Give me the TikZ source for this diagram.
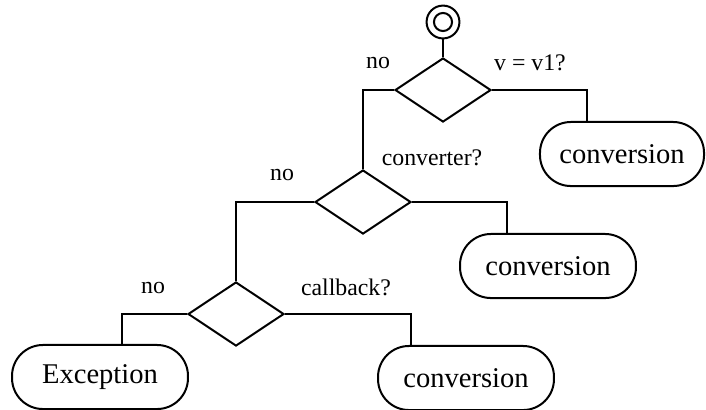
\documentclass[tikz,border=0pt]{standalone}
\usepackage{fontspec}
\setmainfont{Liberation Serif}
\usetikzlibrary{positioning,shapes.geometric}

\begin{document}
\begin{tikzpicture}[x=0.42pt, y=-0.42pt, line width=0.84pt, every node/.style={font=\fontsize{10}{12}\selectfont}]

\tikzstyle{startnode} = [circle, draw, minimum size=13.8pt, inner sep=0pt]
\tikzstyle{startdot} = [circle, draw, minimum size=7.6pt, inner sep=0pt]
\tikzstyle{decision} = [diamond, draw, minimum width=40.3pt, minimum height=26.9pt, inner sep=0pt]
\tikzstyle{action} = [rectangle, draw, rounded corners=13pt, text centered, minimum width=73.9pt, minimum height=26.9pt, font=\fontsize{12}{14}\selectfont]

\useasboundingbox (0,0) rectangle (706,409);

% Start
\node[startnode] (start) at (443,22) {};
\node[startdot] (startin) at (443,22) {};

% Decisions
\node[decision] (v1q) at (443,90) {};
\node[decision] (convq) at (363,202) {};
\node[decision] (cbq) at (236,314) {};

% Outcomes
\node[action, minimum width=68.9pt] (conv1) at (622,154) {conversion};
\node[action] (conv2) at (548,266) {conversion};
\node[action] (conv3) at (466,378) {conversion};
\node[action] (exc) at (100,377) {Exception};

% Connectors
\draw (start) -- (v1q);
\draw (v1q.west) -| (convq.north);
\draw (v1q.east) -| ([xshift=20.2pt]conv1.north west);
\draw (convq.west) -| (cbq.north);
\draw (convq.east) -| ([xshift=20.2pt]conv2.north west);
\draw (cbq.west) -| ([xshift=46.6pt]exc.north west);
\draw (cbq.east) -| ([xshift=14.3pt]conv3.north west);

% Labels
\node (no1) at (378,63) {no};
\node (v1lbl) at (530,63) {v = v1?};
\node (convlbl) at (432,158) {converter?};
\node (no2) at (282,175) {no};
\node (cblbl) at (346,287) {callback?};
\node (no3) at (153,288) {no};

\end{tikzpicture}
\end{document}
